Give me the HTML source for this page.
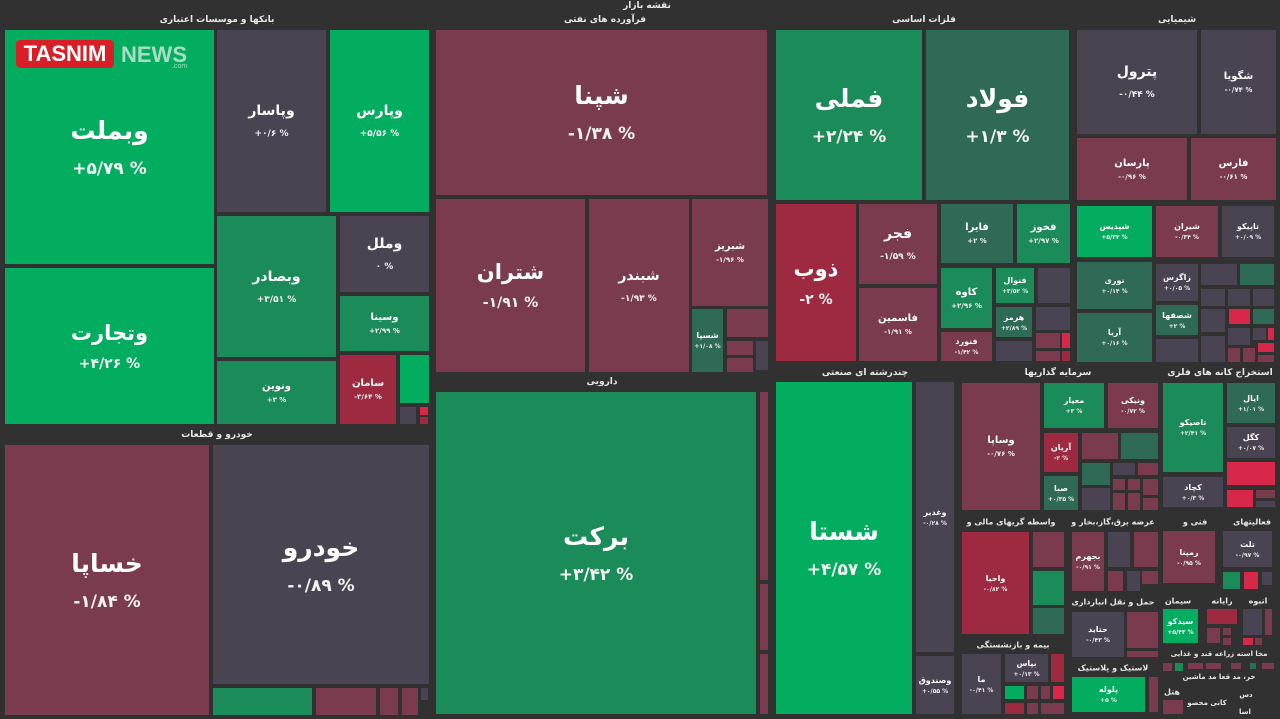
<!DOCTYPE html>
<html lang="fa">
<head>
<meta charset="utf-8">
<style>
html,body{margin:0;padding:0;}
body{width:1280px;height:719px;background:#313131;position:relative;overflow:hidden;font-family:"DejaVu Sans","Liberation Sans",sans-serif;}
.c{position:absolute;display:flex;flex-direction:column;align-items:center;justify-content:center;color:#fff;font-weight:bold;overflow:hidden;text-align:center;box-sizing:border-box;}
.c b{display:block;white-space:nowrap;direction:rtl;}
.c i{display:block;font-style:normal;white-space:nowrap;direction:ltr;unicode-bidi:bidi-override;color:#f2f2f2;}
.L b{font-size:25px;line-height:32px;} .L i{font-size:17px;line-height:21px;margin-top:12px;}
.L2 b{font-size:21px;line-height:27px;} .L2 i{font-size:14px;line-height:17px;margin-top:9px;}
.M b{font-size:14px;line-height:19px;} .M i{font-size:9px;line-height:12px;margin-top:7px;}
.S b{font-size:10px;line-height:13px;} .S i{font-size:7px;line-height:9px;margin-top:3px;}
.X b{font-size:8px;line-height:10px;} .X i{font-size:6px;line-height:7px;margin-top:2px;}
.g1{background:#02ad60;} .g2{background:#1c8b5a;} .g3{background:#2e6a55;}
.n{background:#4a4452;} .r1{background:#7a3b4f;} .r2{background:#9d2a41;} .r3{background:#d8284a;}
.h{position:absolute;transform:translate(-50%,-50%);color:#e8e8e8;font-weight:bold;font-size:9px;white-space:nowrap;direction:rtl;}
.hs{font-size:8px;}
.logo{position:absolute;left:16px;top:40px;width:98px;height:28px;background:#d81f27;border-radius:4px;color:#fff;font-family:"Liberation Sans",sans-serif;font-weight:bold;font-size:22px;line-height:28px;text-align:center;}
.news{position:absolute;left:121px;top:42px;color:#a9dcc2;font-family:"Liberation Sans",sans-serif;font-weight:bold;font-size:22px;line-height:26px;}
.com{position:absolute;left:172px;top:63px;color:#a9dcc2;font-family:"Liberation Sans",sans-serif;font-size:7px;}
</style>
</head>
<body>

<!-- headers -->
<div class="h" style="left:647px;top:6px;">نقشه بازار</div>
<div class="h" style="left:217px;top:20px;">بانکها و موسسات اعتباری</div>
<div class="h" style="left:605px;top:20px;">فرآورده های نفتی</div>
<div class="h" style="left:924px;top:20px;">فلزات اساسی</div>
<div class="h" style="left:1177px;top:20px;">شیمیایی</div>
<div class="h" style="left:217px;top:435px;">خودرو و قطعات</div>
<div class="h" style="left:602px;top:382px;">دارویی</div>
<div class="h" style="left:865px;top:373px;">چندرشته ای صنعتی</div>
<div class="h" style="left:1058px;top:373px;">سرمایه گذاریها</div>
<div class="h" style="left:1220px;top:373px;">استخراج کانه های فلزی</div>
<div class="h hs" style="left:1011px;top:522px;">واسطه گریهای مالی و</div>
<div class="h hs" style="left:1113px;top:522px;">عرضه برق،گاز،بخار و</div>
<div class="h hs" style="left:1195px;top:522px;">فنی و</div>
<div class="h hs" style="left:1252px;top:522px;">فعالیتهای</div>
<div class="h hs" style="left:1013px;top:645px;">بیمه و بازنشستگی</div>
<div class="h hs" style="left:1113px;top:602px;">حمل و نقل انبارداری</div>
<div class="h hs" style="left:1113px;top:668px;">لاستیک و پلاستیک</div>
<div class="h hs" style="left:1178px;top:601px;">سیمان</div>
<div class="h hs" style="left:1222px;top:601px;">رایانه</div>
<div class="h hs" style="left:1258px;top:601px;">انبوه</div>
<div class="h" style="left:1219px;top:654px;font-size:7px;">مخا استه زراعه قند و غذایی</div>
<div class="h" style="left:1219px;top:677px;font-size:7px;">خر، مد قعا مد ماشین</div>
<div class="h" style="left:1172px;top:692px;font-size:8px;">هتل</div>
<div class="h" style="left:1246px;top:695px;font-size:7px;">دس</div>
<div class="h" style="left:1207px;top:703px;font-size:7px;">کانی محصو</div>
<div class="h" style="left:1245px;top:712px;font-size:7px;">اسا</div>

<!-- Banks -->
<div class="c g1 L" style="left:5px;top:30px;width:209px;height:234px"><b>وبملت</b><i>+۵/۷۹ %</i></div>
<div class="c g1 L2" style="left:5px;top:268px;width:209px;height:156px"><b>وتجارت</b><i>+۴/۲۶ %</i></div>
<div class="c n M" style="left:217px;top:30px;width:109px;height:182px"><b>وپاسار</b><i>+۰/۶ %</i></div>
<div class="c g1 M" style="left:330px;top:30px;width:99px;height:182px"><b>وپارس</b><i>+۵/۵۶ %</i></div>
<div class="c g2 M" style="left:217px;top:216px;width:119px;height:141px"><b>وبصادر</b><i>+۳/۵۱ %</i></div>
<div class="c n M" style="left:340px;top:216px;width:89px;height:76px"><b>وملل</b><i>۰ %</i></div>
<div class="c g2 S" style="left:340px;top:296px;width:89px;height:55px"><b>وسینا</b><i>+۲/۹۹ %</i></div>
<div class="c g2 S" style="left:217px;top:361px;width:119px;height:63px"><b>ونوین</b><i>+۳ %</i></div>
<div class="c r2 S" style="left:340px;top:355px;width:56px;height:69px"><b>سامان</b><i>-۳/۶۴ %</i></div>
<div class="c g1" style="left:400px;top:355px;width:29px;height:48px"></div>
<div class="c n" style="left:400px;top:407px;width:16px;height:17px"></div>
<div class="c r3" style="left:420px;top:407px;width:8px;height:8px"></div>
<div class="c r2" style="left:420px;top:417px;width:8px;height:7px"></div>

<div class="logo">TASNIM</div>
<div class="news">NEWS</div>
<div class="com">.com</div>

<!-- Khodro -->
<div class="c r1 L" style="left:5px;top:445px;width:204px;height:270px"><b>خساپا</b><i>-۱/۸۴ %</i></div>
<div class="c n L" style="left:213px;top:445px;width:216px;height:239px"><b>خودرو</b><i>-۰/۸۹ %</i></div>
<div class="c g2" style="left:213px;top:688px;width:99px;height:27px"></div>
<div class="c r1" style="left:316px;top:688px;width:60px;height:27px"></div>
<div class="c r1" style="left:380px;top:688px;width:18px;height:27px"></div>
<div class="c r1" style="left:402px;top:688px;width:16px;height:27px"></div>
<div class="c n" style="left:421px;top:688px;width:7px;height:12px"></div>

<!-- Oil products -->
<div class="c r1 L" style="left:436px;top:30px;width:331px;height:165px"><b>شپنا</b><i>-۱/۳۸ %</i></div>
<div class="c r1 L2" style="left:436px;top:199px;width:149px;height:173px"><b>شتران</b><i>-۱/۹۱ %</i></div>
<div class="c r1 M" style="left:589px;top:199px;width:100px;height:173px"><b>شبندر</b><i>-۱/۹۳ %</i></div>
<div class="c r1 S" style="left:692px;top:199px;width:76px;height:107px"><b>شبریز</b><i>-۱/۹۶ %</i></div>
<div class="c g3 X" style="left:692px;top:309px;width:31px;height:63px"><b>شسپا</b><i>+۱/۰۸ %</i></div>
<div class="c r1" style="left:727px;top:309px;width:41px;height:28px"></div>
<div class="c r1" style="left:727px;top:341px;width:26px;height:14px"></div>
<div class="c r1" style="left:727px;top:358px;width:26px;height:14px"></div>
<div class="c n" style="left:756px;top:341px;width:12px;height:29px"></div>

<!-- Daruyi -->
<div class="c g2 L" style="left:436px;top:392px;width:320px;height:322px"><b>برکت</b><i>+۳/۴۲ %</i></div>
<div class="c r1" style="left:760px;top:392px;width:8px;height:188px"></div>
<div class="c r1" style="left:760px;top:584px;width:8px;height:66px"></div>
<div class="c r1" style="left:760px;top:654px;width:8px;height:60px"></div>

<!-- Basic metals -->
<div class="c g2 L" style="left:776px;top:30px;width:146px;height:170px"><b>فملی</b><i>+۲/۲۴ %</i></div>
<div class="c g3 L" style="left:926px;top:30px;width:143px;height:170px"><b>فولاد</b><i>+۱/۳ %</i></div>
<div class="c r2 L2" style="left:776px;top:204px;width:80px;height:157px"><b>ذوب</b><i>-۲ %</i></div>
<div class="c r1 M" style="left:859px;top:204px;width:78px;height:80px"><b>فجر</b><i>-۱/۵۹ %</i></div>
<div class="c r1 S" style="left:859px;top:288px;width:78px;height:73px"><b>فاسمین</b><i>-۱/۹۱ %</i></div>
<div class="c g3 S" style="left:941px;top:204px;width:72px;height:59px"><b>فایرا</b><i>+۲ %</i></div>
<div class="c g2 S" style="left:1017px;top:204px;width:53px;height:59px"><b>فخوز</b><i>+۲/۹۷ %</i></div>
<div class="c g2 S" style="left:941px;top:268px;width:51px;height:60px"><b>کاوه</b><i>+۲/۹۶ %</i></div>
<div class="c g2 X" style="left:996px;top:268px;width:38px;height:35px"><b>فنوال</b><i>+۳/۵۲ %</i></div>
<div class="c n" style="left:1038px;top:268px;width:32px;height:35px"></div>
<div class="c g3 X" style="left:996px;top:307px;width:36px;height:30px"><b>هرمز</b><i>+۲/۸۹ %</i></div>
<div class="c n" style="left:1036px;top:307px;width:34px;height:23px"></div>
<div class="c r1 X" style="left:941px;top:332px;width:51px;height:29px"><b>فنورد</b><i>-۱/۴۲ %</i></div>
<div class="c n" style="left:996px;top:341px;width:36px;height:20px"></div>
<div class="c r1" style="left:1036px;top:333px;width:24px;height:15px"></div>
<div class="c r3" style="left:1062px;top:333px;width:8px;height:15px"></div>
<div class="c r1" style="left:1036px;top:351px;width:24px;height:10px"></div>
<div class="c r2" style="left:1062px;top:351px;width:8px;height:10px"></div>

<!-- Chemicals -->
<div class="c n M" style="left:1077px;top:30px;width:120px;height:104px"><b>پترول</b><i>-۰/۴۴ %</i></div>
<div class="c n S" style="left:1201px;top:30px;width:75px;height:104px"><b>شگویا</b><i>-۰/۷۴ %</i></div>
<div class="c r1 S" style="left:1077px;top:138px;width:110px;height:62px"><b>پارسان</b><i>-۰/۹۶ %</i></div>
<div class="c r1 S" style="left:1191px;top:138px;width:85px;height:62px"><b>فارس</b><i>-۰/۶۱ %</i></div>
<div class="c g1 X" style="left:1077px;top:206px;width:75px;height:51px"><b>شپدیس</b><i>+۵/۳۲ %</i></div>
<div class="c r1 X" style="left:1156px;top:206px;width:62px;height:51px"><b>شیران</b><i>-۰/۳۴ %</i></div>
<div class="c n X" style="left:1222px;top:206px;width:52px;height:51px"><b>تاپیکو</b><i>+۰/۰۹ %</i></div>
<div class="c g3 X" style="left:1077px;top:262px;width:75px;height:47px"><b>نوری</b><i>+۰/۱۴ %</i></div>
<div class="c g3 X" style="left:1077px;top:313px;width:75px;height:49px"><b>آریا</b><i>+۰/۱۶ %</i></div>
<div class="c n X" style="left:1156px;top:264px;width:42px;height:37px"><b>زاگرس</b><i>+۰/۰۵ %</i></div>
<div class="c g3 X" style="left:1156px;top:305px;width:42px;height:30px"><b>شصفها</b><i>+۲ %</i></div>
<div class="c n" style="left:1156px;top:339px;width:42px;height:23px"></div>
<div class="c n" style="left:1201px;top:264px;width:36px;height:21px"></div>
<div class="c g3" style="left:1240px;top:264px;width:34px;height:21px"></div>
<div class="c n" style="left:1201px;top:289px;width:24px;height:17px"></div>
<div class="c n" style="left:1228px;top:289px;width:22px;height:17px"></div>
<div class="c n" style="left:1253px;top:289px;width:21px;height:17px"></div>
<div class="c n" style="left:1201px;top:309px;width:24px;height:23px"></div>
<div class="c r3" style="left:1229px;top:309px;width:21px;height:15px"></div>
<div class="c g3" style="left:1253px;top:309px;width:21px;height:15px"></div>
<div class="c n" style="left:1201px;top:336px;width:24px;height:26px"></div>
<div class="c n" style="left:1228px;top:328px;width:22px;height:17px"></div>
<div class="c n" style="left:1253px;top:328px;width:13px;height:12px"></div>
<div class="c r3" style="left:1268px;top:328px;width:6px;height:12px"></div>
<div class="c r1" style="left:1228px;top:348px;width:12px;height:14px"></div>
<div class="c r1" style="left:1243px;top:348px;width:12px;height:14px"></div>
<div class="c r3" style="left:1258px;top:343px;width:16px;height:9px"></div>
<div class="c r1" style="left:1258px;top:355px;width:16px;height:7px"></div>

<!-- Chandreshte -->
<div class="c g1 L" style="left:776px;top:382px;width:136px;height:332px"><b>شستا</b><i>+۴/۵۷ %</i></div>
<div class="c n X" style="left:916px;top:382px;width:38px;height:270px"><b>وغدیر</b><i>-۰/۲۸ %</i></div>
<div class="c n X" style="left:916px;top:656px;width:38px;height:58px"><b>وصندوق</b><i>+۰/۵۵ %</i></div>

<!-- Sarmaye -->
<div class="c r1 S" style="left:962px;top:383px;width:78px;height:127px"><b>وساپا</b><i>-۰/۷۶ %</i></div>
<div class="c g2 X" style="left:1044px;top:383px;width:60px;height:45px"><b>معیار</b><i>+۳ %</i></div>
<div class="c r1 X" style="left:1108px;top:383px;width:50px;height:45px"><b>ونیکی</b><i>-۰/۷۲ %</i></div>
<div class="c r2 X" style="left:1044px;top:433px;width:34px;height:39px"><b>آریان</b><i>-۲ %</i></div>
<div class="c g3 X" style="left:1044px;top:476px;width:34px;height:34px"><b>صبا</b><i>+۰/۳۵ %</i></div>
<div class="c r1" style="left:1082px;top:433px;width:36px;height:26px"></div>
<div class="c g3" style="left:1121px;top:433px;width:37px;height:26px"></div>
<div class="c g3" style="left:1082px;top:463px;width:28px;height:22px"></div>
<div class="c n" style="left:1113px;top:463px;width:22px;height:12px"></div>
<div class="c r1" style="left:1138px;top:463px;width:20px;height:12px"></div>
<div class="c n" style="left:1082px;top:488px;width:28px;height:22px"></div>
<div class="c r1" style="left:1113px;top:479px;width:12px;height:11px"></div>
<div class="c r1" style="left:1128px;top:479px;width:12px;height:11px"></div>
<div class="c r1" style="left:1143px;top:479px;width:15px;height:16px"></div>
<div class="c r1" style="left:1113px;top:493px;width:12px;height:17px"></div>
<div class="c r1" style="left:1128px;top:493px;width:12px;height:17px"></div>
<div class="c r1" style="left:1143px;top:498px;width:15px;height:12px"></div>

<!-- Estekhraj -->
<div class="c g2 X" style="left:1163px;top:383px;width:60px;height:89px"><b>تاصیکو</b><i>+۲/۴۱ %</i></div>
<div class="c g3 X" style="left:1227px;top:383px;width:48px;height:40px"><b>ایال</b><i>+۱/۰۱ %</i></div>
<div class="c n X" style="left:1227px;top:427px;width:48px;height:31px"><b>کگل</b><i>+۰/۰۷ %</i></div>
<div class="c r3" style="left:1227px;top:462px;width:48px;height:23px"></div>
<div class="c n X" style="left:1163px;top:477px;width:60px;height:30px"><b>کچاد</b><i>+۰/۳ %</i></div>
<div class="c r3" style="left:1227px;top:490px;width:26px;height:17px"></div>
<div class="c r1" style="left:1256px;top:490px;width:19px;height:8px"></div>
<div class="c n" style="left:1256px;top:501px;width:19px;height:6px"></div>

<!-- Vasete -->
<div class="c r2 X" style="left:962px;top:532px;width:67px;height:102px"><b>واحیا</b><i>-۰/۸۲ %</i></div>
<div class="c r1" style="left:1033px;top:532px;width:31px;height:35px"></div>
<div class="c g2" style="left:1033px;top:571px;width:31px;height:34px"></div>
<div class="c g3" style="left:1033px;top:608px;width:31px;height:26px"></div>

<!-- Bime -->
<div class="c n X" style="left:962px;top:654px;width:39px;height:60px"><b>ما</b><i>-۰/۴۱ %</i></div>
<div class="c n X" style="left:1005px;top:654px;width:43px;height:28px"><b>بپاس</b><i>+۰/۱۳ %</i></div>
<div class="c r2" style="left:1051px;top:654px;width:13px;height:28px"></div>
<div class="c g1" style="left:1005px;top:686px;width:19px;height:13px"></div>
<div class="c r1" style="left:1027px;top:686px;width:11px;height:13px"></div>
<div class="c r1" style="left:1041px;top:686px;width:9px;height:13px"></div>
<div class="c r3" style="left:1053px;top:686px;width:11px;height:13px"></div>
<div class="c r2" style="left:1005px;top:703px;width:19px;height:11px"></div>
<div class="c r1" style="left:1027px;top:703px;width:11px;height:11px"></div>
<div class="c r1" style="left:1041px;top:703px;width:23px;height:11px"></div>

<!-- Arze bargh -->
<div class="c r1 X" style="left:1072px;top:532px;width:32px;height:59px"><b>بجهرم</b><i>-۰/۹۱ %</i></div>
<div class="c n" style="left:1108px;top:532px;width:22px;height:35px"></div>
<div class="c r1" style="left:1134px;top:532px;width:24px;height:35px"></div>
<div class="c r1" style="left:1108px;top:571px;width:15px;height:20px"></div>
<div class="c n" style="left:1127px;top:571px;width:13px;height:20px"></div>
<div class="c r1" style="left:1142px;top:571px;width:16px;height:13px"></div>

<!-- Haml -->
<div class="c n X" style="left:1072px;top:612px;width:52px;height:45px"><b>حتاید</b><i>-۰/۴۳ %</i></div>
<div class="c r1" style="left:1127px;top:612px;width:31px;height:36px"></div>
<div class="c r1" style="left:1127px;top:651px;width:31px;height:6px"></div>

<!-- Lastik -->
<div class="c g1 X" style="left:1072px;top:677px;width:73px;height:35px"><b>پلوله</b><i>+۵ %</i></div>
<div class="c r1" style="left:1149px;top:677px;width:9px;height:35px"></div>

<!-- Right bottom -->
<div class="c r1 X" style="left:1163px;top:531px;width:52px;height:52px"><b>رمپنا</b><i>-۰/۹۵ %</i></div>
<div class="c n X" style="left:1223px;top:531px;width:49px;height:36px"><b>تلت</b><i>-۰/۹۷ %</i></div>
<div class="c g2" style="left:1223px;top:572px;width:17px;height:17px"></div>
<div class="c r3" style="left:1244px;top:572px;width:14px;height:17px"></div>
<div class="c n" style="left:1262px;top:572px;width:10px;height:13px"></div>
<div class="c g1 X" style="left:1163px;top:609px;width:35px;height:34px"><b>سیدکو</b><i>+۵/۴۳ %</i></div>
<div class="c r2" style="left:1207px;top:609px;width:30px;height:15px"></div>
<div class="c r1" style="left:1207px;top:628px;width:13px;height:15px"></div>
<div class="c r1" style="left:1223px;top:628px;width:8px;height:7px"></div>
<div class="c r1" style="left:1223px;top:638px;width:8px;height:7px"></div>
<div class="c n" style="left:1243px;top:609px;width:19px;height:26px"></div>
<div class="c r1" style="left:1265px;top:609px;width:7px;height:26px"></div>
<div class="c r3" style="left:1243px;top:638px;width:10px;height:7px"></div>
<div class="c r1" style="left:1255px;top:638px;width:7px;height:7px"></div>
<div class="c r1" style="left:1163px;top:663px;width:9px;height:8px"></div>
<div class="c g2" style="left:1175px;top:663px;width:8px;height:8px"></div>
<div class="c r1" style="left:1188px;top:663px;width:15px;height:6px"></div>
<div class="c r1" style="left:1206px;top:663px;width:15px;height:6px"></div>
<div class="c r1" style="left:1231px;top:663px;width:10px;height:6px"></div>
<div class="c g3" style="left:1250px;top:663px;width:6px;height:6px"></div>
<div class="c r1" style="left:1262px;top:663px;width:12px;height:6px"></div>
<div class="c r1" style="left:1163px;top:700px;width:20px;height:14px"></div>

</body>
</html>
